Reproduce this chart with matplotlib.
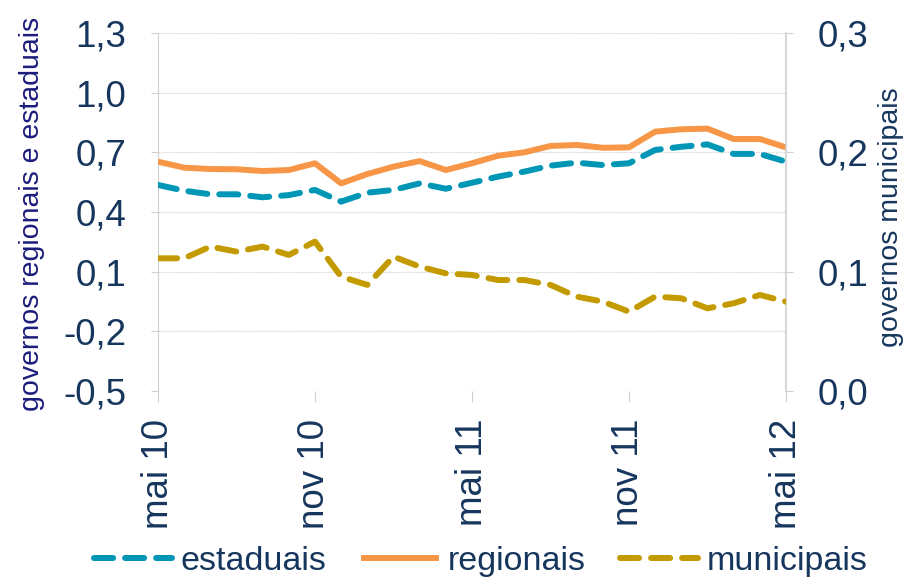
import matplotlib
matplotlib.use("Agg")
import matplotlib.pyplot as plt
import numpy as np

plt.rcParams['font.family'] = ['Liberation Sans', 'DejaVu Sans']

months = ["mai 10", "jun 10", "jul 10", "ago 10", "set 10", "out 10", "nov 10", "dez 10",
          "jan 11", "fev 11", "mar 11", "abr 11", "mai 11", "jun 11", "jul 11", "ago 11",
          "set 11", "out 11", "nov 11", "dez 11", "jan 12", "fev 12", "mar 12", "abr 12", "mai 12"]
tick_labels = ["mai 10", "nov 10", "mai 11", "nov 11", "mai 12"]

estaduais = [0.536, 0.507, 0.489, 0.489, 0.474, 0.485, 0.511, 0.452, 0.497, 0.511,
             0.544, 0.517, 0.547, 0.578, 0.603, 0.633, 0.648, 0.636, 0.645, 0.712,
             0.728, 0.740, 0.692, 0.692, 0.653]
regionais = [0.653, 0.623, 0.616, 0.615, 0.606, 0.611, 0.645, 0.544, 0.591, 0.628,
             0.656, 0.611, 0.645, 0.683, 0.700, 0.732, 0.737, 0.723, 0.725, 0.804,
             0.816, 0.819, 0.767, 0.767, 0.725]
municipais = [0.1112, 0.1112, 0.1210, 0.1168, 0.1210, 0.1140, 0.1252, 0.0958, 0.0889, 0.1126,
              0.1042, 0.0986, 0.0972, 0.0930, 0.0930, 0.0889, 0.0791, 0.0749, 0.0665, 0.0791,
              0.0777, 0.0693, 0.0735, 0.0805, 0.0749]

left_ticks = [-0.5, -0.2, 0.1, 0.4, 0.7, 1.0, 1.3]
right_ticks = [0.0, 0.1, 0.2, 0.3]

c_blue = "#0096B6"
c_orange = "#F79646"
c_olive = "#C39B00"
c_text = "#17365D"
c_label = "#1C1C7C"
c_grid = "#D0D0D0"

fig = plt.figure(figsize=(9.07, 5.79), dpi=100)
ax = fig.add_axes([158/907, 1-391/579, (786-158)/907, (391-33)/579])
ax2 = ax.twinx()

x = np.arange(len(months))

l1, = ax.plot(x, estaduais, color=c_blue, lw=4.3, ls=(0, (3.2, 2.0)),
              dash_capstyle='round', label="estaduais", zorder=3)
l2, = ax.plot(x, regionais, color=c_orange, lw=4.3, solid_capstyle='butt',
              label="regionais", zorder=3)
l3, = ax2.plot(x, municipais, color=c_olive, lw=4.3, ls=(0, (3.2, 2.0)),
               dash_capstyle='round', label="municipais", zorder=3)

ax.set_xlim(0, len(months) - 1)
ax.set_ylim(-0.5, 1.3)
ax2.set_ylim(0.0, 0.3)

ax.set_yticks(left_ticks)
ax.set_yticklabels([f"{v:.1f}".replace(".", ",") for v in left_ticks])
ax2.set_yticks(right_ticks)
ax2.set_yticklabels([f"{v:.1f}".replace(".", ",") for v in right_ticks])

tick_pos = [months.index(t) for t in tick_labels]
ax.set_xticks(tick_pos)
ax.set_xticklabels(tick_labels, rotation=90)

ax.grid(axis='y', color=c_grid, ls=(0, (1, 1)), lw=0.9)
ax.set_axisbelow(True)

for a in (ax, ax2):
    for s in a.spines.values():
        s.set_visible(False)
ax.spines['left'].set_visible(True)
ax.spines['left'].set_color(c_grid)
ax.spines['left'].set_linestyle((0, (1, 1)))
ax2.spines['right'].set_visible(True)
ax2.spines['right'].set_color(c_grid)
ax2.spines['right'].set_linewidth(1.2)

ax.tick_params(axis='y', length=5, color=c_grid, labelsize=26.5, labelcolor=c_text, pad=18)
ax.tick_params(axis='x', length=8, color=c_grid, labelsize=26.5, labelcolor=c_text, pad=12)
ax2.tick_params(axis='y', length=5, color=c_grid, labelsize=26.5, labelcolor=c_text, pad=18)

ax.set_ylabel("governos regionais e estaduais", fontsize=20.5, color=c_label)
ax.yaxis.set_label_coords(-0.18, 0.495)
ax2.set_ylabel("governos municipais", fontsize=20.5, color=c_text)
ax2.yaxis.set_label_coords(1.146, 0.486)

leg = fig.legend(handles=[l1, l2, l3], loc='center', bbox_to_anchor=(0.53, 0.03),
                 ncol=3, frameon=False, fontsize=24.5, handlelength=2.3,
                 handletextpad=0.25, columnspacing=1.0, labelcolor=c_text,
                 borderpad=0, borderaxespad=0)

fig.savefig("out.png", dpi=100)
